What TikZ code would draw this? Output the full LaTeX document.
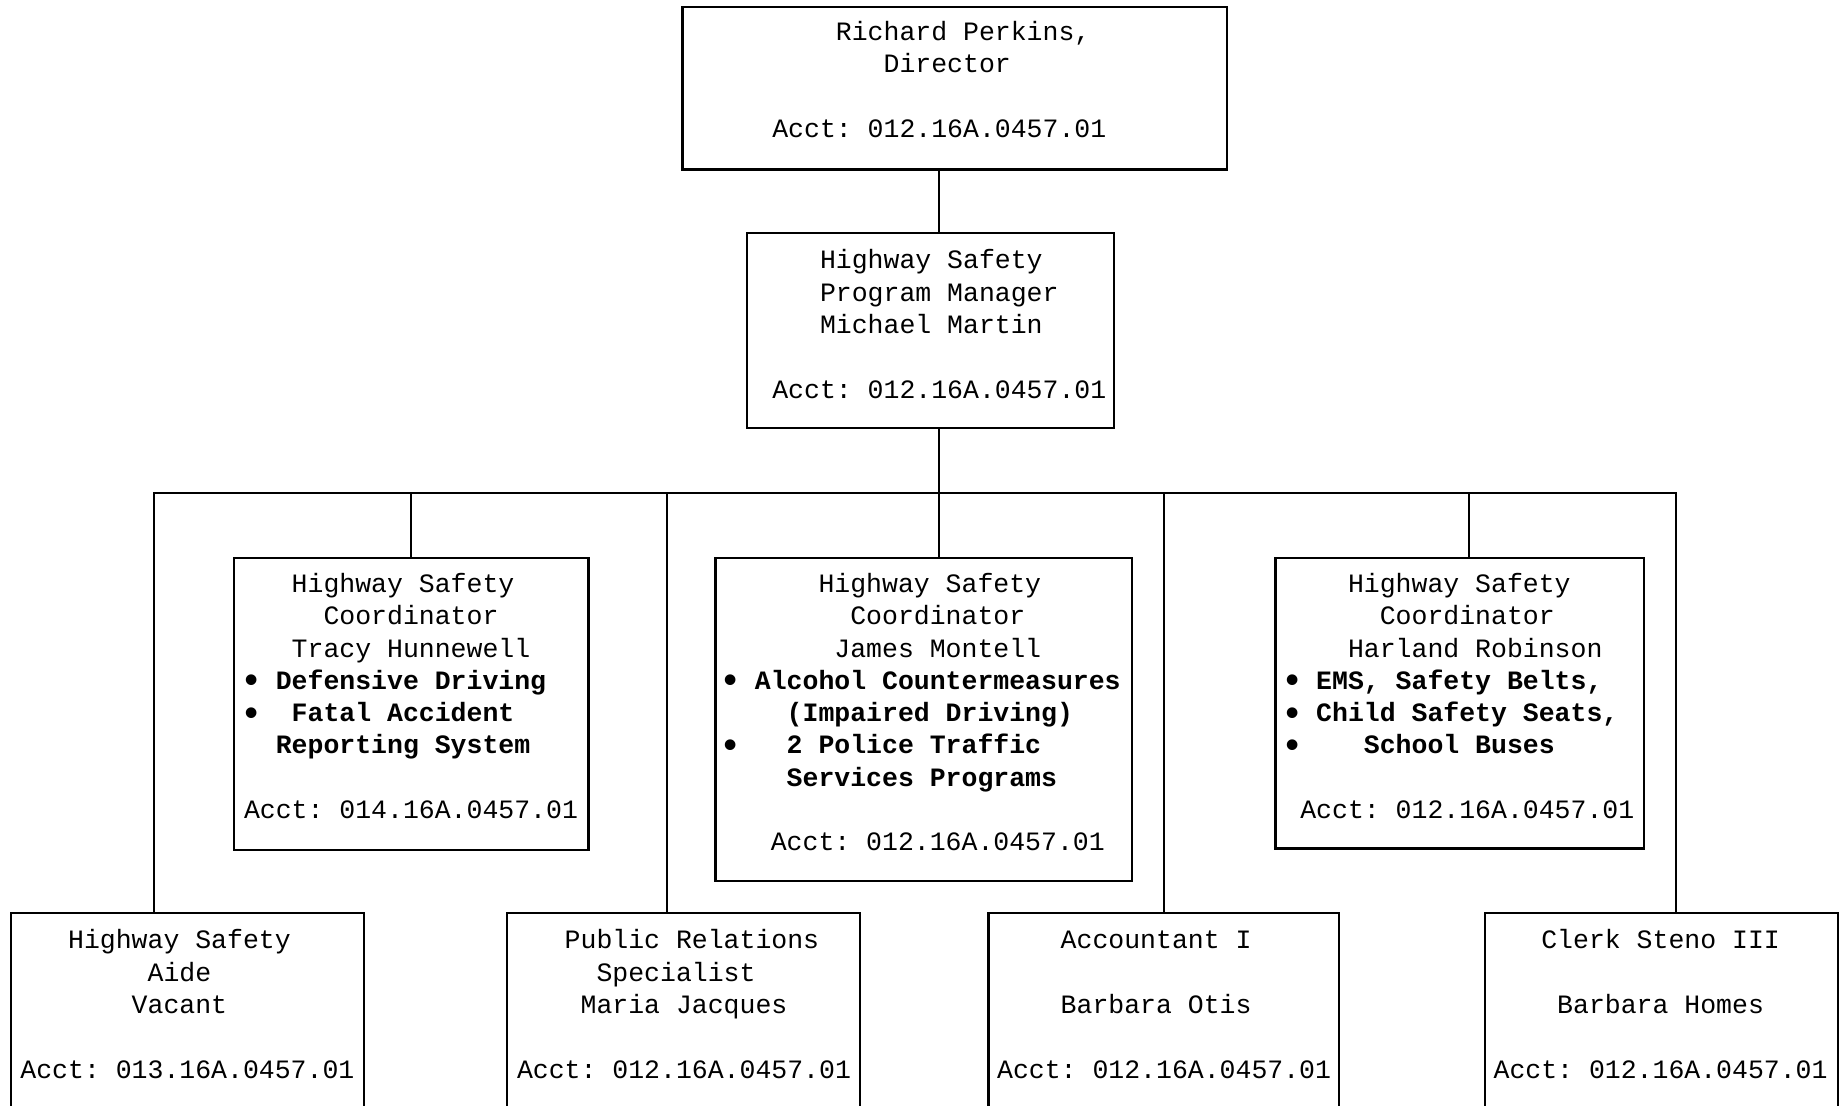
\documentclass[tikz,border=0pt]{standalone}
\usepackage{fontspec}
\newfontfamily\cour{Liberation Mono}
\usetikzlibrary{fit}
% a block of left-aligned monospaced lines whose baseline is that of the first line
\newcommand\textlines[1]{\vtop{\baselineskip=16.15pt\lineskiplimit=-20pt\lineskip=0pt%
  \halign{\strut##\hfil\cr#1\crcr}}}
% a larger bullet that still fills exactly one character cell
\newcommand\bul{\makebox[0.6em]{\smash{\raisebox{-0.13em}{\scalebox{1.4}{•}}}}}
\begin{document}
\begin{tikzpicture}[x=0.5pt,y=-0.5pt,
  box/.style={draw,line width=1.1pt,inner sep=0pt},
  txt/.style={anchor=base west,inner sep=0pt,font=\cour\fontsize{13.25pt}{16.15pt}\selectfont\frenchspacing},
  wire/.style={line width=1pt}]
\useasboundingbox (0,0) rectangle (1845,1105);
\fill[white] (0,0) rectangle (1845,1105);
\clip (0,0) rectangle (1845,1105);

% frames
\node[box,fit={(682.5,7.1) (1227.3,169.4)}] (dir) {};
\node[box,fit={(747.2,233) (1114.3,428.3)}] (pm) {};
\node[box,fit={(234.2,557.8) (588.4,849.6)}] (tracy) {};
\node[box,fit={(715.4,557.8) (1132,881.3)}] (james) {};
\node[box,fit={(1275.5,557.8) (1643.9,848.4)}] (harland) {};
\node[box,fit={(10.6,913.1) (363.6,1130)}] (aide) {};
\node[box,fit={(507.2,913.1) (860.2,1130)}] (pr) {};
\node[box,fit={(988.4,913.1) (1339.1,1130)}] (acc) {};
\node[box,fit={(1485,913.1) (1838,1130)}] (clerk) {};

% texts
\node[txt] (dirtext) at (771.9,40.5) {\textlines{%
~~~~Richard Perkins,\cr
~~~~~~~Director\cr
\cr
Acct: 012.16A.0457.01}};
\node[txt] (pmtext) at (771.9,268.8) {\textlines{%
~~~Highway Safety\cr
~~~Program Manager\cr
~~~Michael Martin\cr
\cr
Acct: 012.16A.0457.01}};
\node[txt] (tracytext) at (243.6,592.4) {\textlines{%
~~~Highway Safety\cr
~~~~~Coordinator\cr
~~~Tracy Hunnewell\cr
{\bfseries \bul~Defensive Driving}\cr
{\bfseries \bul~~Fatal Accident}\cr
{\bfseries ~~Reporting System}\cr
\cr
Acct: 014.16A.0457.01}};
\node[txt] (jamestext) at (722.7,592.4) {\textlines{%
~~~~~~Highway Safety\cr
~~~~~~~~Coordinator\cr
~~~~~~~James Montell\cr
{\bfseries \bul~Alcohol Countermeasures}\cr
{\bfseries ~~~~(Impaired Driving)}\cr
{\bfseries \bul~~~2 Police Traffic}\cr
{\bfseries ~~~~Services Programs}\cr
\cr
~~~Acct: 012.16A.0457.01}};
\node[txt] (harlandtext) at (1284,592.4) {\textlines{%
~~~~Highway Safety\cr
~~~~~~Coordinator\cr
~~~~Harland Robinson\cr
{\bfseries \bul~EMS, Safety Belts,}\cr
{\bfseries \bul~Child Safety Seats,}\cr
{\bfseries \bul~~~~School Buses}\cr
\cr
~Acct: 012.16A.0457.01}};
\node[txt] (aidetext) at (20,948.9) {\textlines{%
~~~Highway Safety\cr
~~~~~~~~Aide\cr
~~~~~~~Vacant\cr
\cr
Acct: 013.16A.0457.01}};
\node[txt] (prtext) at (516.6,948.9) {\textlines{%
~~~Public Relations\cr
~~~~~Specialist\cr
~~~~Maria Jacques\cr
\cr
Acct: 012.16A.0457.01}};
\node[txt] (acctext) at (996.7,948.9) {\textlines{%
~~~~Accountant I\cr
\cr
~~~~Barbara Otis\cr
\cr
Acct: 012.16A.0457.01}};
\node[txt] (clerktext) at (1493.2,948.9) {\textlines{%
~~~Clerk Steno III\cr
\cr
~~~~Barbara Homes\cr
\cr
Acct: 012.16A.0457.01}};

% the distribution bus and its drops
\coordinate (b1) at (154.1,493);
\coordinate (b2) at (410.7,493);
\coordinate (b3) at (667.2,493);
\coordinate (b4) at (939,493);
\coordinate (b5) at (1163.8,493);
\coordinate (b6) at (1468.5,493);
\coordinate (b7) at (1675.6,493);

\draw[wire] (dir.south -| b4) -- (pm.north -| b4);
\draw[wire] (pm.south -| b4) -- (james.north -| b4);
\draw[wire] (aide.north -| b1) -- (b1) -- (b7) -- (clerk.north -| b7);
\draw[wire] (b2) -- (tracy.north -| b2);
\draw[wire] (b3) -- (pr.north -| b3);
\draw[wire] (b5) -- (acc.north -| b5);
\draw[wire] (b6) -- (harland.north -| b6);
\end{tikzpicture}
\end{document}
